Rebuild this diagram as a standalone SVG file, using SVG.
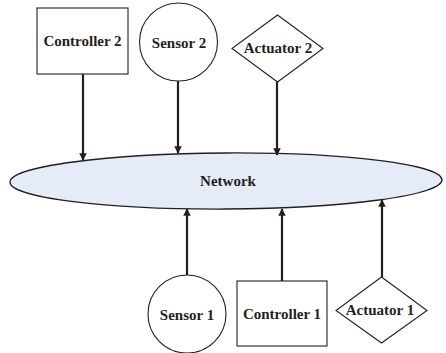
<svg xmlns="http://www.w3.org/2000/svg" width="446" height="353" viewBox="0 0 446 353">
  <style>
    .shape { fill: #ffffff; stroke: #231f20; stroke-width: 1.1; }
    .net { fill: #e6ecf7; stroke: #231f20; stroke-width: 1.3; }
    .label { font-family: "Liberation Serif", "Times New Roman", serif; font-weight: bold; font-size: 15px; fill: #231f20; text-anchor: middle; }
    .link { stroke: #231f20; stroke-width: 2.2; fill: none; marker-end: url(#head); }
  </style>
  <defs>
    <marker id="head" viewBox="0 0 10 10" refX="9" refY="5" markerWidth="4" markerHeight="3.4" orient="auto" markerUnits="strokeWidth">
      <path d="M0,0 L10,5 L0,10 Z" fill="#231f20"/>
    </marker>
  </defs>

  <rect width="446" height="353" fill="#ffffff"/>

  <g id="network">
    <ellipse class="net" cx="226" cy="181" rx="216" ry="28" transform="rotate(-0.3 226 181)"/>
    <text class="label" x="228" y="186">Network</text>
  </g>

  <g id="connectors">
    <line class="link" x1="83" y1="74" x2="83" y2="160"/>
    <line class="link" x1="178" y1="81" x2="178" y2="153"/>
    <line class="link" x1="277" y1="82" x2="277" y2="155"/>
    <line class="link" x1="187" y1="276" x2="187" y2="209"/>
    <line class="link" x1="282" y1="281" x2="282" y2="209"/>
    <line class="link" x1="382" y1="277" x2="382" y2="200"/>
  </g>

  <g id="controller2">
    <rect class="shape" x="37" y="8" width="91" height="66"/>
    <text class="label" x="82.5" y="46">Controller 2</text>
  </g>

  <g id="sensor2">
    <circle class="shape" cx="178.5" cy="42" r="39"/>
    <text class="label" x="179" y="48">Sensor 2</text>
  </g>

  <g id="actuator2">
    <polygon class="shape" points="277.5,15 323,48.5 277.5,82 232,48.5"/>
    <text class="label" x="278" y="53">Actuator 2</text>
  </g>

  <g id="sensor1">
    <circle class="shape" cx="187" cy="314" r="39"/>
    <text class="label" x="187" y="320">Sensor 1</text>
  </g>

  <g id="controller1">
    <rect class="shape" x="237" y="281" width="90" height="65"/>
    <text class="label" x="282" y="319">Controller 1</text>
  </g>

  <g id="actuator1">
    <polygon class="shape" points="381.5,277 427,310.5 381.5,343 336,310.5"/>
    <text class="label" x="380" y="315">Actuator 1</text>
  </g>
</svg>
